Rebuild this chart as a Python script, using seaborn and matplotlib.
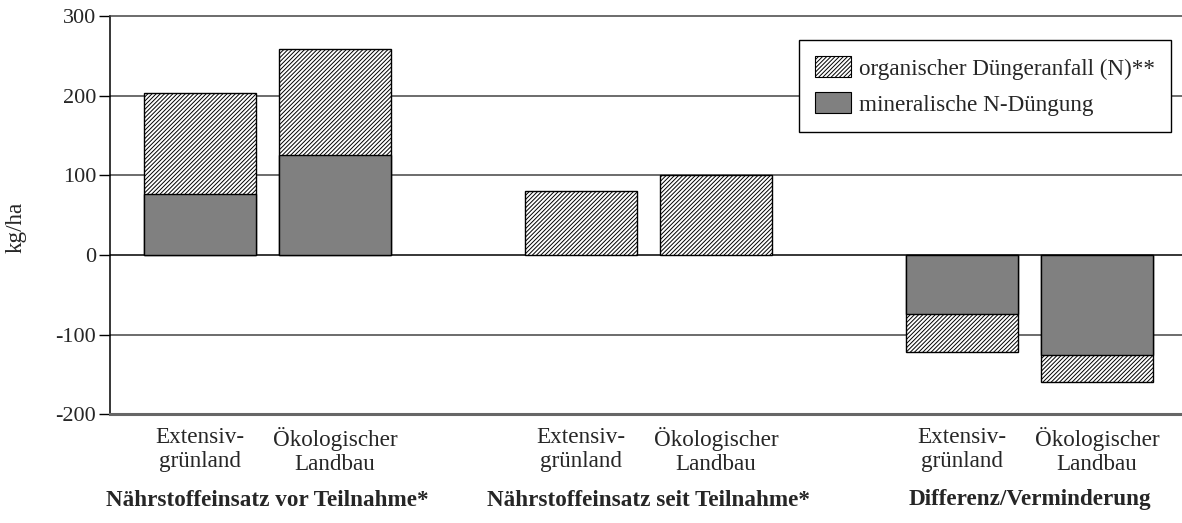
"""Nitrogen input before and after participation, stacked bars."""

import matplotlib.pyplot as plt
from matplotlib.patches import Patch
import numpy as np
import seaborn as sns

groups = ['Nährstoffeinsatz vor Teilnahme*',
          'Nährstoffeinsatz seit Teilnahme*',
          'Differenz/Verminderung']
categories = ['Extensiv-\ngrünland', 'Ökologischer\nLandbau']
legend_labels = ['organischer Düngeranfall (N)**', 'mineralische N-Düngung']

# total = mineral + organic, in kg/ha
total = [203, 259, 81, 100, -122, -160]
mineral = [77, 126, 0, 0, -74, -126]

sns.set_style('white')
plt.rcParams['font.family'] = ['Liberation Serif', 'DejaVu Serif']
plt.rcParams['hatch.linewidth'] = 0.7
FS = 16.7
HATCH = '////////'

GROUP_STEP = 381 / 135
x = np.array([g * GROUP_STEP + i for g in range(len(groups))
              for i in range(len(categories))])

fig = plt.figure(figsize=(11.82, 5.23), dpi=100)
ax = fig.add_axes([0.093, 0.208, 0.907, 0.761])

for v in [-100, 0, 100, 200]:
    ax.axhline(v, color='black' if v == 0 else '#444444', lw=1.1, zorder=0)

sns.barplot(x=x, y=total, native_scale=True, width=0.83, color='white',
            edgecolor='black', linewidth=1, hatch=HATCH, saturation=1,
            ax=ax, zorder=2)
keep = np.array(mineral) != 0
sns.barplot(x=x[keep], y=np.array(mineral)[keep], native_scale=True,
            width=0.83, color='#808080', edgecolor='black', linewidth=1,
            saturation=1, ax=ax, zorder=3)

ax.set_xlim(-0.667, 7.274)
ax.set_ylim(-200, 300)
ax.set_yticks([-200, -100, 0, 100, 200, 300])
ax.set_yticklabels(['-200', '-100', '0', '100', '200', '300'], fontsize=16)
ax.set_xticks(x)
ax.set_xticklabels(categories * len(groups), fontsize=FS, linespacing=1.2)
ax.tick_params(axis='x', length=0, pad=9)
ax.tick_params(axis='y', length=8, width=1, color='black', left=True,
               direction='out', pad=2)
ax.set_ylabel('kg/ha', fontsize=FS)
ax.yaxis.set_label_coords(-0.078, 0.47)

ax.spines['right'].set_visible(False)
ax.spines['left'].set_color('black')
ax.spines['left'].set_linewidth(1.1)
ax.spines['top'].set_color('#444444')
ax.spines['top'].set_linewidth(1.1)
ax.spines['bottom'].set_color('#666666')
ax.spines['bottom'].set_linewidth(2.2)

label_y = (1 - 500 / 523 - 0.208) / 0.761
for g, name in enumerate(groups):
    ax.text(g * GROUP_STEP + 0.5, label_y, name,
            transform=ax.get_xaxis_transform(), fontsize=FS,
            fontweight='bold', ha='center', va='center', clip_on=False)

handles = [Patch(facecolor='white', edgecolor='black', hatch=HATCH,
                 linewidth=0.8),
           Patch(facecolor='#808080', edgecolor='black', linewidth=0.8)]
leg = ax.legend(handles, legend_labels, loc='upper right',
                bbox_to_anchor=(0.99, 0.94), borderaxespad=0, fontsize=FS,
                fancybox=False, framealpha=1, edgecolor='black',
                handlelength=1.55, handleheight=1.0, handletextpad=0.35,
                borderpad=0.7, labelspacing=0.55)
leg.get_frame().set_linewidth(1)

fig.savefig('out.png', dpi=100)
